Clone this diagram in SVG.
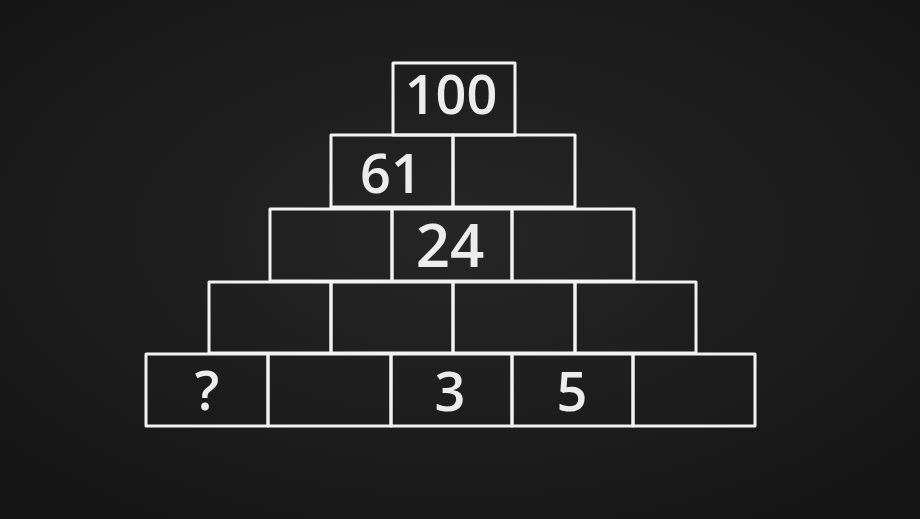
<svg xmlns="http://www.w3.org/2000/svg" width="920" height="519" viewBox="0 0 920 519">
<defs>
<radialGradient id="bg" cx="50%" cy="45%" r="70%">
<stop offset="0" stop-color="#262626"/>
<stop offset="1" stop-color="#151515"/>
</radialGradient>
<style>
.b{fill:none;stroke:#f2f2f2;stroke-width:3;stroke-linejoin:round}
.t{fill:#ececec;font-family:"Open Sans","DejaVu Sans",sans-serif;font-size:54px;font-weight:600;text-anchor:middle}
</style>
</defs>
<rect width="920" height="519" fill="url(#bg)"/>
<g id="r1">
<rect class="b" x="393" y="63" width="122" height="72"/>
<text class="t" x="451" y="114">100</text>
</g>
<g id="r2">
<rect class="b" x="331" y="135" width="122" height="72"/>
<rect class="b" x="453" y="135" width="122" height="72"/>
<text class="t" x="391" y="193">61</text>
</g>
<g id="r3">
<rect class="b" x="270" y="209" width="122" height="72"/>
<rect class="b" x="392" y="209" width="120" height="72"/>
<rect class="b" x="512" y="209" width="122" height="72"/>
<text class="t" x="450" y="267" style="font-size:60px">24</text>
</g>
<g id="r4">
<rect class="b" x="209" y="282" width="122" height="71"/>
<rect class="b" x="331" y="282" width="122" height="71"/>
<rect class="b" x="453" y="282" width="122" height="71"/>
<rect class="b" x="575" y="282" width="121" height="71"/>
</g>
<g id="r5">
<rect class="b" x="146" y="354" width="122" height="72"/>
<rect class="b" x="268" y="354" width="123" height="72"/>
<rect class="b" x="391" y="354" width="121" height="72"/>
<rect class="b" x="512" y="354" width="121" height="72"/>
<rect class="b" x="633" y="354" width="122" height="72"/>
<text class="t" x="207" y="410">?</text>
<text class="t" x="450" y="411">3</text>
<text class="t" x="572" y="411">5</text>
</g>
</svg>
